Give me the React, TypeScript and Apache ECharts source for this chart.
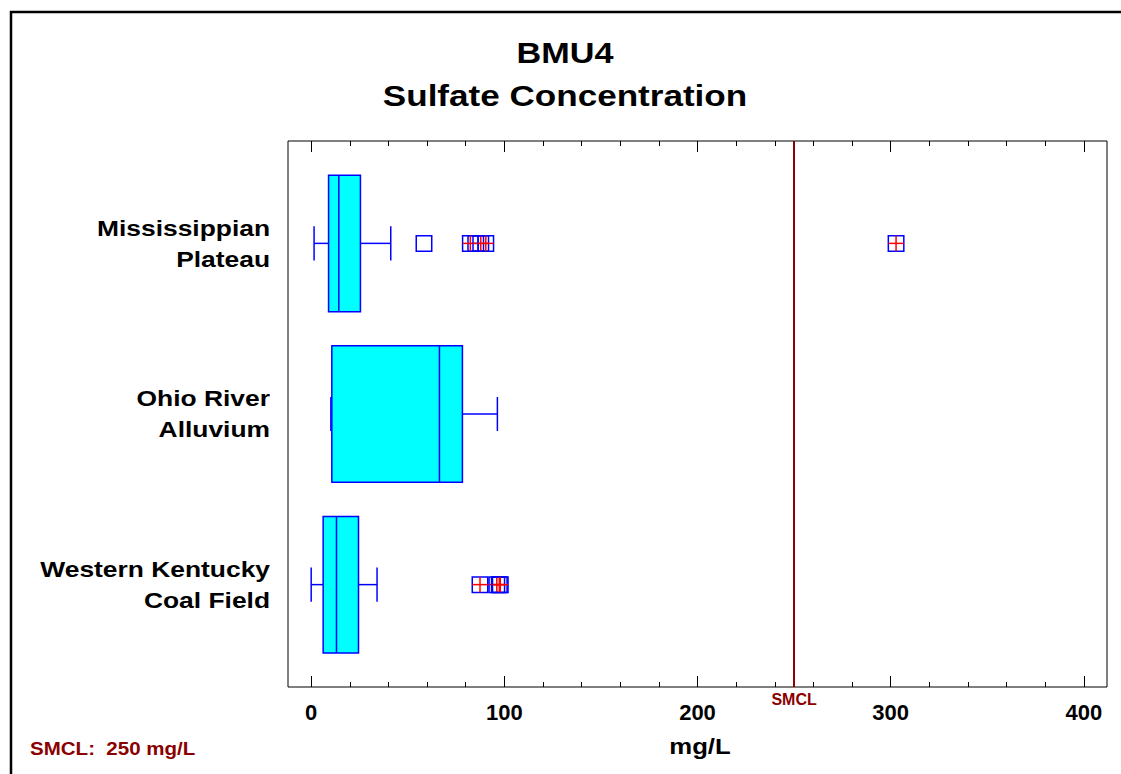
import { useEffect, useRef } from 'react';
import * as echarts from 'echarts';

// Sulfate concentration summary per aquifer region (mg/L)
const categories = ['Mississippian\nPlateau', 'Ohio River\nAlluvium', 'Western Kentucky\nCoal Field'];
const whiskerLow = [1.5, 10.2, 0];
const quartile1 = [9.0, 10.7, 6.2];
const medians = [14.3, 66.4, 13.1];
const quartile3 = [25.5, 78.3, 24.5];
const whiskerHigh = [41.2, 96.4, 34.1];
// Outliers: plain squares and squares marked with a cross
const plainOutliers: number[][] = [[58.4, 85.2], [], []];
const crossedOutliers: number[][] = [[82.4, 87.8, 90.4, 302.8], [], [87.4, 96.1, 97.4, 97.9]];

const majorTicks = [0, 100, 200, 300, 400];
const minorTicks = [0, 20, 40, 60, 80, 100, 120, 140, 160, 180, 200, 220, 240, 260, 280, 300, 320, 340, 360, 380, 400];
const smclValue = 250;
const xMin = -12;
const xMax = 412;

const FONT = '"Liberation Sans", Arial, Helvetica, sans-serif';
const DARK_RED = '#8B0000';
const BLUE = '#0000FF';

function wideText(text: string, x: number, y: number, size: number, fill: string, align: string, scaleX: number) {
  return {
    type: 'text',
    x,
    y,
    scaleX,
    style: {
      text,
      fill,
      fontFamily: FONT,
      fontSize: size,
      fontWeight: 'bold',
      textAlign: align,
      textVerticalAlign: 'middle',
    },
  };
}

export default function App() {
  const ref = useRef<HTMLDivElement>(null);

  useEffect(() => {
    if (!ref.current) return;
    const chart = echarts.init(ref.current, undefined, { renderer: 'svg' });

    const boxData = categories.map((_, i) => [
      i + 1,
      whiskerLow[i],
      quartile1[i],
      medians[i],
      quartile3[i],
      whiskerHigh[i],
    ]);

    const outlierData: number[][] = [];
    categories.forEach((_, i) => {
      plainOutliers[i].forEach((v) => outlierData.push([v, i + 1, 0]));
      crossedOutliers[i].forEach((v) => outlierData.push([v, i + 1, 1]));
    });

    const xBase = {
      type: 'value' as const,
      min: xMin,
      max: xMax,
      splitLine: { show: false },
      axisLine: { show: false },
    };
    const tickStyle = { color: '#000', width: 1 };

    chart.setOption({
      animation: false,
      backgroundColor: '#fff',
      textStyle: { fontFamily: FONT },
      grid: {
        left: 288,
        right: 14,
        top: 141,
        bottom: 87,
        show: true,
        borderColor: '#000',
        borderWidth: 1,
        backgroundColor: 'transparent',
      },
      graphic: [
        {
          type: 'rect',
          z: -10,
          shape: { x: 11, y: 12, width: 1200, height: 1000 },
          style: { fill: 'none', stroke: '#000', lineWidth: 2.5 },
        },
        wideText('BMU4', 565, 53, 29, '#000', 'center', 1.18),
        wideText('Sulfate Concentration', 565, 96, 29, '#000', 'center', 1.21),
        wideText('SMCL:  ' + smclValue + ' mg/L', 30, 748, 18.5, DARK_RED, 'left', 1.11),
        wideText('mg/L', 700, 746, 22, '#000', 'center', 1.17),
      ],
      xAxis: [
        {
          ...xBase,
          position: 'bottom',
          axisTick: { show: true, inside: true, length: 11, customValues: majorTicks, lineStyle: tickStyle },
          axisLabel: {
            customValues: majorTicks,
            fontFamily: FONT,
            fontSize: 22,
            fontWeight: 'bold',
            color: '#000',
            margin: 14,
          },
        },
        {
          ...xBase,
          position: 'bottom',
          axisTick: { show: true, inside: true, length: 5, customValues: minorTicks, lineStyle: tickStyle },
          axisLabel: { show: false },
        },
        {
          ...xBase,
          position: 'top',
          axisTick: { show: true, inside: true, length: 11, customValues: majorTicks, lineStyle: tickStyle },
          axisLabel: { show: false },
        },
        {
          ...xBase,
          position: 'top',
          axisTick: { show: true, inside: true, length: 5, customValues: minorTicks, lineStyle: tickStyle },
          axisLabel: { show: false },
        },
        {
          ...xBase,
          position: 'bottom',
          axisTick: { show: false },
          axisLabel: {
            customValues: [smclValue],
            formatter: () => 'SMCL',
            fontFamily: FONT,
            fontSize: 16,
            fontWeight: 'bold',
            color: DARK_RED,
            margin: 4,
          },
        },
      ],
      yAxis: {
        type: 'value',
        min: 0.4,
        max: 3.6,
        inverse: true,
        axisLine: { show: false },
        axisTick: { show: false },
        splitLine: { show: false },
        axisLabel: { show: false },
      },
      series: [
        {
          type: 'custom',
          xAxisIndex: 0,
          yAxisIndex: 0,
          data: boxData,
          encode: { x: [1, 2, 3, 4, 5], y: 0 },
          renderItem: (_params: any, api: any) => {
            const cat = api.value(0);
            const lo = api.value(1);
            const q1 = api.value(2);
            const md = api.value(3);
            const q3 = api.value(4);
            const hi = api.value(5);
            const c = (x: number, y: number) => api.coord([x, y]);
            const pLo = c(lo, cat);
            const pQ1 = c(q1, cat);
            const pQ3 = c(q3, cat);
            const pHi = c(hi, cat);
            const boxTop = c(q1, cat - 0.4)[1];
            const boxBottom = c(q1, cat + 0.4)[1];
            const capTop = c(lo, cat - 0.1)[1];
            const capBottom = c(lo, cat + 0.1)[1];
            const xMd = c(md, cat)[0];
            const line = { stroke: BLUE, lineWidth: 1.5 };
            return {
              type: 'group',
              children: [
                { type: 'line', shape: { x1: pLo[0], y1: pLo[1], x2: pQ1[0], y2: pQ1[1] }, style: line },
                { type: 'line', shape: { x1: pQ3[0], y1: pQ3[1], x2: pHi[0], y2: pHi[1] }, style: line },
                { type: 'line', shape: { x1: pLo[0], y1: capTop, x2: pLo[0], y2: capBottom }, style: line },
                { type: 'line', shape: { x1: pHi[0], y1: capTop, x2: pHi[0], y2: capBottom }, style: line },
                {
                  type: 'rect',
                  shape: { x: pQ1[0], y: boxTop, width: pQ3[0] - pQ1[0], height: boxBottom - boxTop },
                  style: { fill: '#00FFFF', stroke: BLUE, lineWidth: 1.5 },
                },
                { type: 'line', shape: { x1: xMd, y1: boxTop, x2: xMd, y2: boxBottom }, style: line },
              ],
            };
          },
          markLine: {
            silent: true,
            symbol: ['none', 'none'],
            label: { show: false },
            lineStyle: { color: DARK_RED, width: 2, type: 'solid' },
            data: [{ xAxis: smclValue }],
          },
        },
        {
          type: 'custom',
          xAxisIndex: 0,
          yAxisIndex: 0,
          data: outlierData,
          encode: { x: 0, y: 1 },
          z: 3,
          renderItem: (_params: any, api: any) => {
            const p = api.coord([api.value(0), api.value(1)]);
            const h = 7.75;
            const children: any[] = [
              {
                type: 'rect',
                shape: { x: p[0] - h, y: p[1] - h, width: 2 * h, height: 2 * h },
                style: { fill: 'none', stroke: BLUE, lineWidth: 1.5 },
              },
            ];
            if (api.value(2) === 1) {
              const red = { stroke: '#FF0000', lineWidth: 1.5 };
              children.push(
                { type: 'line', shape: { x1: p[0], y1: p[1] - h, x2: p[0], y2: p[1] + h }, style: red },
                { type: 'line', shape: { x1: p[0] - h, y1: p[1], x2: p[0] + h, y2: p[1] }, style: red },
              );
            }
            return { type: 'group', children };
          },
        },
        {
          // Category names, right-aligned beside the plot area
          type: 'custom',
          xAxisIndex: 0,
          yAxisIndex: 0,
          clip: false,
          silent: true,
          data: categories.map((_, i) => [xMin, i + 1]),
          encode: { x: 0, y: 1 },
          renderItem: (params: any, api: any) => {
            const p = api.coord([api.value(0), api.value(1)]);
            return {
              type: 'text',
              x: p[0] - 18,
              y: p[1],
              scaleX: 1.2,
              style: {
                text: categories[params.dataIndex],
                fill: '#000',
                fontFamily: FONT,
                fontSize: 22,
                fontWeight: 'bold',
                lineHeight: 31,
                textAlign: 'right',
                textVerticalAlign: 'middle',
              },
            };
          },
        },
      ],
    });

    return () => chart.dispose();
  }, []);

  return (
    <div
      ref={ref}
      style={{ position: 'fixed', left: 0, top: 0, width: 1121, height: 774, background: '#fff' }}
    />
  );
}
